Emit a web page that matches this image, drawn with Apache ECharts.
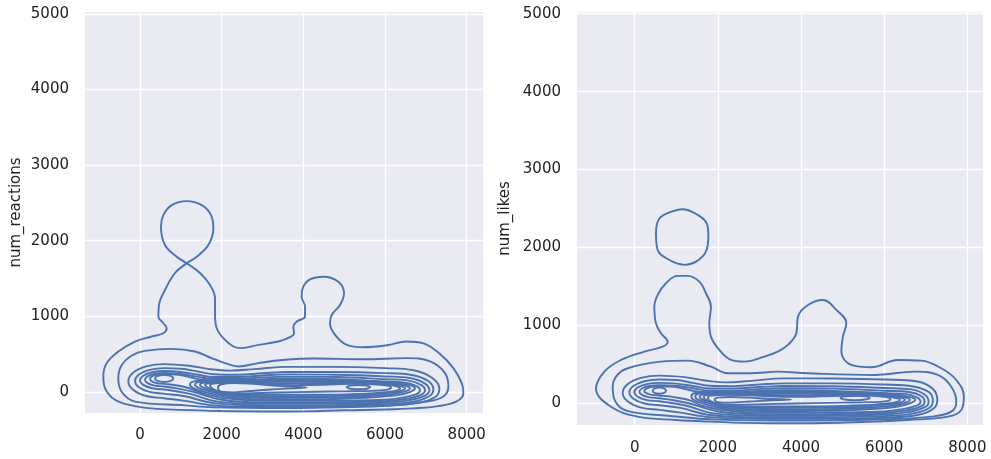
<!DOCTYPE html>
<html>
<head>
<meta charset="utf-8">
<script src="https://cdn.jsdelivr.net/npm/echarts@6/dist/echarts.min.js"></script>
<style>
html,body{margin:0;padding:0;background:#ffffff;}
#chart{width:991px;height:459px;}
</style>
</head>
<body>
<div id="chart"></div>
<script>
// ---------- tick labels ----------
var xTicks = [0, 2000, 4000, 6000, 8000];
var yTicks = [0, 1000, 2000, 3000, 4000, 5000];
var yNameLeft = "num_reactions";
var yNameRight = "num_likes";

// ---------- left panel: num_reactions contour lines [x, y] ----------
var rL1 = [[-898,203],[-816,379],[-531,533],[-122,665],[286,731],[571,775],[653,841],[571,907],[449,995],[465,1149],[612,1347],[857,1572],[1143,1700],[1388,1788],[1673,1942],[1796,2162],[1739,2338],[1511,2470],[1143,2523],[776,2470],[571,2338],[514,2184],[612,1942],[898,1788],[1143,1700],[1469,1572],[1714,1413],[1837,1237],[1837,1017],[1878,841],[2041,709],[2285,599],[2490,577],[2897,621],[3387,665],[3673,722],[3771,775],[3755,863],[3837,929],[4041,995],[4041,1127],[3959,1259],[4000,1391],[4163,1488],[4490,1523],[4857,1457],[4996,1304],[4898,1149],[4694,1017],[4653,907],[4776,753],[5062,621],[5469,590],[6041,615],[6531,665],[6939,640],[7347,500],[7673,313],[7878,115],[7918,-17],[7755,-128],[7266,-194],[6694,-220],[6000,-235],[5000,-245],[4000,-260],[3000,-262],[2000,-255],[1000,-240],[286,-220],[-204,-180],[-612,-106],[-857,49]];
var rL2 = [[-531,181],[-450,350],[-200,480],[122,541],[776,568],[1347,533],[1755,445],[2082,379],[2408,334],[2897,379],[3551,423],[4245,440],[5469,430],[6531,445],[7102,401],[7469,247],[7551,70],[7429,-62],[7021,-128],[6000,-185],[3551,-215],[1800,-205],[1102,-180],[-122,-130],[-450,0]];
var rL3 = [[-286,140],[-169,253],[152,336],[590,366],[1200,345],[1700,300],[2200,280],[2800,300],[3600,330],[4800,330],[6000,313],[6700,285],[7150,185],[7331,40],[7230,-70],[6800,-150],[6000,-185],[4500,-200],[3000,-200],[1800,-180],[1100,-120],[590,-85],[152,-56],[-169,27]];
var rL4 = [[-122,144],[-27,229],[234,290],[590,313],[1000,305],[1400,270],[1800,232],[2400,225],[3000,245],[3600,262],[4800,262],[6000,247],[6650,222],[7050,145],[7184,30],[7080,-60],[6700,-130],[6000,-165],[4500,-180],[3000,-180],[1800,-150],[1100,-60],[590,-25],[234,-2],[-27,60]];
var rL5 = [[0,152],[79,213],[295,258],[590,275],[950,265],[1400,228],[1800,195],[2400,195],[3000,215],[3600,230],[4800,225],[6000,203],[6600,182],[6960,115],[7086,20],[6980,-50],[6600,-110],[6000,-145],[4500,-160],[3000,-160],[1900,-130],[1200,-25],[590,30],[295,46],[79,91]];
var rL6 = [[122,159],[185,204],[356,236],[590,248],[950,238],[1400,200],[1800,168],[2400,168],[3000,190],[3600,200],[4800,195],[6000,167],[6550,150],[6880,92],[6980,20],[6880,-40],[6500,-95],[6000,-125],[4500,-140],[3000,-140],[2000,-105],[1300,0],[900,45],[590,70],[356,82],[185,114]];
var rL7 = [[245,170],[291,203],[417,227],[590,236],[950,225],[1400,170],[1800,145],[2400,148],[3000,165],[3600,175],[4800,165],[6000,136],[6450,125],[6770,75],[6857,20],[6770,-30],[6400,-80],[6000,-105],[4500,-120],[3000,-120],[2100,-88],[1600,-30],[1250,40],[950,80],[590,105],[417,113],[291,137]];
var rL8 = [[367,176],[432,209],[591,222],[750,209],[816,176],[750,143],[591,130],[432,143]];
var rC1 = [[1224,95],[1300,135],[1700,152],[2400,152],[3600,158],[4800,152],[5500,145],[6200,122],[6600,88],[6735,45],[6620,0],[6300,-45],[5500,-80],[4500,-98],[3000,-100],[2200,-75],[1600,-5],[1300,50]];
var rC2 = [[1347,92],[1420,128],[1800,140],[2400,140],[3600,145],[4800,140],[5500,134],[6150,112],[6500,80],[6610,45],[6500,5],[6200,-30],[5500,-60],[4500,-78],[3000,-80],[2200,-58],[1700,5],[1420,55]];
var rC3 = [[1469,90],[1540,120],[1900,132],[2400,132],[3600,135],[4800,130],[5500,124],[6050,104],[6380,75],[6490,45],[6380,10],[6100,-15],[5500,-42],[4500,-58],[3000,-60],[2200,-42],[1800,10],[1540,58]];
var rC4 = [[1592,88],[1660,112],[1950,125],[2400,126],[3200,115],[4000,110],[4800,116],[5500,115],[6000,98],[6280,72],[6370,45],[6280,15],[6000,-5],[5500,-25],[4500,-40],[3000,-40],[2200,-28],[1850,15],[1650,60]];
var rC5 = [[1714,85],[1800,110],[2300,122],[3000,105],[3800,88],[4500,92],[5200,104],[5700,100],[6050,82],[6150,55],[6050,28],[5700,12],[5000,5],[4300,0],[3400,-10],[2600,-22],[2050,-15],[1780,40]];
var rW  = [[1910,60],[2000,100],[2300,117],[2700,108],[3200,85],[3700,68],[4082,55],[3700,45],[3200,30],[2700,10],[2300,-8],[2000,0],[1920,30]];
var rR  = [[5062,62],[5150,82],[5350,90],[5550,82],[5633,62],[5550,40],[5350,33],[5150,40]];

// ---------- right panel: num_likes contour lines [x, y] ----------
var lL1 = [[-930,185],[-729,406],[-329,556],[233,663],[673,727],[793,791],[632,899],[512,1027],[473,1240],[553,1391],[752,1541],[1034,1635],[1274,1635],[1555,1561],[1714,1412],[1834,1240],[1795,1027],[1834,855],[2036,684],[2315,556],[2637,534],[3118,598],[3438,663],[3685,749],[3887,899],[3926,1112],[4166,1262],[4527,1326],[4849,1198],[5089,1027],[5008,855],[4969,663],[5209,492],[5690,462],[6330,556],[6892,547],[7373,449],[7734,299],[7916,85],[7854,-86],[7532,-172],[6570,-214],[5500,-240],[4238,-257],[3000,-255],[1834,-236],[1000,-215],[72,-172],[-570,-44]];
var lL1b = [[1154,2491],[1514,2418],[1740,2300],[1772,2139],[1714,1947],[1474,1818],[1195,1776],[913,1818],[553,1968],[512,2183],[580,2360],[793,2440]];
var lL2 = [[-529,213],[-420,360],[-168,449],[632,534],[1274,547],[1834,470],[2236,385],[2796,385],[3438,406],[4166,385],[5770,363],[6731,406],[7292,363],[7613,213],[7734,21],[7613,-108],[7132,-172],[6000,-205],[4000,-222],[2000,-210],[800,-160],[-200,-95],[-480,40]];
var lL3 = [[-288,135],[-170,245],[153,326],[593,355],[1200,335],[1700,292],[2200,268],[2800,288],[3600,320],[4800,318],[6000,305],[6800,280],[7180,180],[7277,40],[7180,-70],[6800,-150],[6000,-185],[4500,-200],[3000,-200],[1800,-178],[1100,-120],[593,-85],[153,-56],[-170,25]];
var lL4 = [[-128,140],[-31,222],[233,283],[593,305],[1000,298],[1400,262],[1800,225],[2400,220],[3000,240],[3600,255],[4800,255],[6000,240],[6700,215],[7080,140],[7171,30],[7080,-60],[6700,-130],[6000,-165],[4500,-180],[3000,-180],[1800,-150],[1100,-60],[593,-25],[233,-3],[-31,57]];
var lL5 = [[-8,143],[73,203],[293,246],[593,262],[950,255],[1400,222],[1800,190],[2400,190],[3000,208],[3600,222],[4800,218],[6000,196],[6650,178],[6980,110],[7068,20],[6980,-50],[6600,-110],[6000,-145],[4500,-160],[3000,-160],[1900,-130],[1200,-25],[593,25],[293,41],[73,84]];
var lL6 = [[113,148],[177,190],[353,221],[593,232],[950,225],[1400,192],[1800,162],[2400,162],[3000,182],[3600,192],[4800,188],[6000,160],[6600,145],[6900,90],[6972,20],[6880,-40],[6500,-95],[6000,-125],[4500,-140],[3000,-140],[2000,-105],[1300,0],[900,42],[593,65],[353,76],[177,107]];
var lL7 = [[233,159],[281,188],[413,210],[593,218],[950,210],[1400,160],[1800,138],[2400,140],[3000,158],[3600,168],[4800,158],[6000,130],[6500,120],[6800,72],[6875,20],[6780,-30],[6400,-80],[6000,-105],[4500,-120],[3000,-120],[2100,-88],[1600,-28],[1350,35],[950,78],[593,100],[413,108],[281,130]];
var lL8 = [[433,162],[480,191],[593,203],[706,191],[753,162],[706,133],[593,122],[480,133]];
var lC1 = [[1363,88],[1440,128],[1800,145],[2400,145],[3600,150],[4800,145],[5500,138],[6200,115],[6600,82],[6750,45],[6620,0],[6300,-45],[5500,-80],[4500,-98],[3000,-100],[2200,-75],[1650,-5],[1420,45]];
var lC2 = [[1459,85],[1530,120],[1850,133],[2400,133],[3600,138],[4800,133],[5500,127],[6150,106],[6500,76],[6620,45],[6500,5],[6200,-30],[5500,-60],[4500,-78],[3000,-80],[2200,-58],[1750,5],[1510,50]];
var lC3 = [[1563,82],[1630,112],[1950,124],[2400,124],[3600,126],[4800,123],[5500,117],[6050,98],[6380,72],[6500,45],[6380,10],[6100,-15],[5500,-42],[4500,-58],[3000,-60],[2200,-42],[1850,10],[1610,52]];
var lC4 = [[1659,80],[1720,104],[2000,115],[2400,116],[3200,106],[4000,102],[4800,110],[5500,108],[6000,92],[6280,68],[6380,45],[6280,15],[6000,-5],[5500,-25],[4500,-40],[3000,-40],[2200,-28],[1880,12],[1700,52]];
var lC5 = [[1762,75],[1850,100],[2300,108],[3000,95],[3800,82],[4500,88],[5200,100],[5700,96],[6050,78],[6150,52],[6050,28],[5700,14],[5000,8],[4300,2],[3400,-8],[2600,-18],[2050,-12],[1800,35]];
var lW  = [[1923,45],[2000,72],[2300,80],[2765,72],[3200,58],[3758,48],[3200,36],[2765,22],[2300,8],[2000,15]];
var lR  = [[4950,68],[5050,88],[5300,96],[5550,88],[5650,68],[5550,48],[5300,40],[5050,48]];

var leftContours  = [rL1, rL2, rL3, rL4, rL5, rL6, rL7, rL8, rC1, rC2, rC3, rC4, rC5, rW, rR];
var rightContours = [lL1, lL1b, lL2, lL3, lL4, lL5, lL6, lL7, lL8, lC1, lC2, lC3, lC4, lC5, lW, lR];

// ---------- chart ----------
var LINE = '#4C72B0';
var TXT = '#222222';
var FONT = 'DejaVu Sans';

// close a contour loop, starting it at its lowest point so the seam is on a flat stretch
function closedLoop(c) {
  var k = 0;
  for (var i = 1; i < c.length; i++) { if (c[i][1] < c[k][1]) k = i; }
  var out = c.slice(k).concat(c.slice(0, k));
  out.push(out[0]);
  return out;
}

function xAxis(idx, min, max, margin) {
  return {
    type: 'value', gridIndex: idx, min: min, max: max,
    axisLine: {show: false}, axisTick: {show: false, customValues: xTicks},
    axisLabel: {customValues: xTicks, color: TXT, fontFamily: FONT, fontSize: 15, margin: margin,
      formatter: function (v) { return String(v); }},
    splitLine: {show: true, lineStyle: {color: '#ffffff', width: 1.3}}
  };
}
function yAxis(idx, min, max, name, gap) {
  return {
    type: 'value', gridIndex: idx, min: min, max: max,
    name: name, nameLocation: 'middle', nameGap: gap, nameRotate: 90,
    nameTextStyle: {color: TXT, fontFamily: FONT, fontSize: 15},
    axisLine: {show: false}, axisTick: {show: false, customValues: yTicks},
    axisLabel: {customValues: yTicks, color: TXT, fontFamily: FONT, fontSize: 15, margin: 16,
      formatter: function (v) { return String(v); }},
    splitLine: {show: true, lineStyle: {color: '#ffffff', width: 1.3}}
  };
}

var series = [];
function addContours(list, idx) {
  list.forEach(function (c) {
    series.push({type: 'line', xAxisIndex: idx, yAxisIndex: idx, data: closedLoop(c), smooth: 0.4,
      showSymbol: false, symbol: 'none', lineStyle: {color: LINE, width: 1.9}, silent: true});
  });
}
addContours(leftContours, 0);
addContours(rightContours, 1);

var chart = echarts.init(document.getElementById('chart'), null, {renderer: 'canvas'});
chart.setOption({
  animation: false,
  backgroundColor: '#ffffff',
  textStyle: {fontFamily: FONT},
  grid: [
    {left: 85, top: 12, width: 398, height: 401, show: true, backgroundColor: '#EAEAF2', borderWidth: 0},
    {left: 577, top: 12, width: 406, height: 413, show: true, backgroundColor: '#EAEAF2', borderWidth: 0}
  ],
  xAxis: [xAxis(0, -1347, 8399, 15), xAxis(1, -1387, 8376, 16)],
  yAxis: [yAxis(0, -281, 5026, yNameLeft, 61), yAxis(1, -279, 5022, yNameRight, 64)],
  series: series
});
</script>
</body>
</html>
